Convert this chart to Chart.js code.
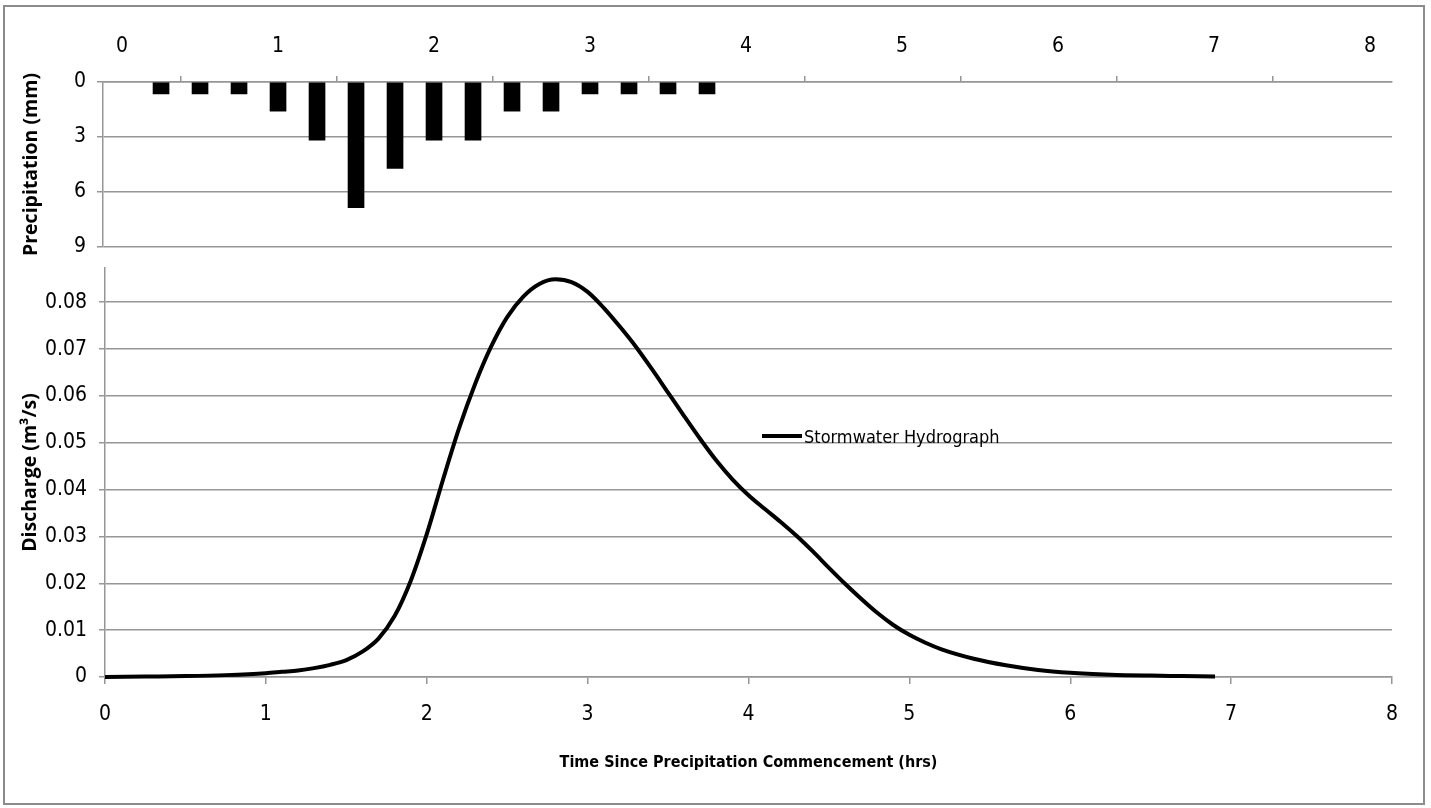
<!DOCTYPE html>
<html>
<head>
<meta charset="utf-8">
<script src="https://cdn.jsdelivr.net/npm/chart.js@4.4.1/dist/chart.umd.min.js"></script>
<style>
  html, body { margin: 0; padding: 0; background: #fff; }
  #wrap { position: relative; width: 1431px; height: 808px; overflow: hidden; }
  #frame { position: absolute; left: 3px; top: 5px; width: 1422px; height: 800px;
           box-sizing: border-box; border: 2px solid #8c8c8c; }
  canvas { position: absolute; left: 0; top: 0; }
</style>
</head>
<body>
<div id="wrap">
  <div id="frame"></div>
  <canvas id="rainChart" width="1431" height="808"></canvas>
  <canvas id="flowChart" width="1431" height="808"></canvas>
</div>
<script>
// precipitation bars (hrs, mm)
const precipTimes = [0.25, 0.5, 0.75, 1.0, 1.25, 1.5, 1.75, 2.0, 2.25, 2.5, 2.75, 3.0, 3.25, 3.5, 3.75];
const precipValues = [0.65, 0.65, 0.65, 1.59, 3.17, 6.86, 4.72, 3.17, 3.17, 1.59, 1.59, 0.65, 0.65, 0.65, 0.65];
const precipTicks = [0, 3, 6, 9];
const topTimeTicks = [0, 1, 2, 3, 4, 5, 6, 7, 8];
const topTimeLabels = ['0', '1', '2', '3', '4', '5', '6', '7', '8'];

// hydrograph (hrs, m3/s)
const flowTimes = [0, 0.25, 0.5, 0.75, 1.0, 1.1, 1.2, 1.3, 1.4, 1.5, 1.6, 1.7, 1.8, 1.9, 2.0,
  2.1, 2.2, 2.3, 2.4, 2.5, 2.6, 2.7, 2.8, 2.9, 3.0, 3.1, 3.2, 3.3, 3.4, 3.5, 3.6, 3.7, 3.8, 3.9, 4.0,
  4.1, 4.2, 4.3, 4.4, 4.5, 4.6, 4.7, 4.8, 4.9, 5.0, 5.1, 5.2, 5.4, 5.6, 5.8, 6.0, 6.25, 6.5, 6.7, 6.9];
const flowValues = [0, 0.0001, 0.0002, 0.0004, 0.0008, 0.0011, 0.0014, 0.0019, 0.0026, 0.0036, 0.0054, 0.0082, 0.013, 0.0205, 0.0305,
  0.042, 0.053, 0.0625, 0.0705, 0.0768, 0.0812, 0.0839, 0.0849, 0.0843, 0.0822, 0.0788, 0.0748, 0.0705, 0.0657, 0.0607, 0.0557, 0.0508, 0.0462, 0.0422, 0.0388,
  0.0359, 0.0331, 0.0301, 0.0268, 0.0233, 0.0199, 0.0167, 0.0137, 0.0111, 0.009, 0.0073, 0.0059, 0.0039, 0.0025, 0.0015, 0.0009, 0.0005, 0.0003, 0.0002, 0.0001];
const flowTicks = [0, 0.01, 0.02, 0.03, 0.04, 0.05, 0.06, 0.07, 0.08];
const flowTickLabels = ['0', '0.01', '0.02', '0.03', '0.04', '0.05', '0.06', '0.07', '0.08'];
const timeTicks = [0, 1, 2, 3, 4, 5, 6, 7, 8];
const timeTickLabels = ['0', '1', '2', '3', '4', '5', '6', '7', '8'];

const narrow = "'Liberation Sans Narrow', 'DejaVu Sans Condensed', 'Liberation Sans', sans-serif";
const boldFace = "'Open Sans', 'Liberation Sans', sans-serif";
const gridGray = '#969696';

Chart.defaults.font.family = narrow;
Chart.defaults.color = '#000';

// top panel: precipitation hanging from the top axis
new Chart(document.getElementById('rainChart'), {
  type: 'bar',
  data: {
    datasets: [{
      label: 'Precipitation',
      data: precipTimes.map((t, i) => ({ x: t, y: precipValues[i] })),
      backgroundColor: '#000',
      borderWidth: 0,
      barThickness: 16,
    }],
  },
  options: {
    responsive: false,
    animation: false,
    layout: { padding: { left: 0, top: 0, right: 39, bottom: 561 } },
    plugins: { legend: { display: false }, tooltip: { enabled: false } },
    scales: {
      x: {
        type: 'linear',
        position: 'top',
        min: -0.122,
        max: 8.141,
        offset: false,
        afterFit: (s) => { s.height = 82; },
        // excel puts the tick marks a little left of the labels
        afterBuildTicks: (s) => { s.ticks = topTimeTicks.map((v) => ({ value: v - 0.122 })); },
        ticks: {
          callback: (v, i) => topTimeLabels[i],
          labelOffset: 19,
          padding: 17,
          maxRotation: 0,
          autoSkip: false,
          font: { size: 21 },
        },
        grid: { drawOnChartArea: false, tickLength: 6, color: gridGray, lineWidth: 1.5 },
        border: { color: gridGray, width: 1.5 },
      },
      y: {
        type: 'linear',
        reverse: true,
        min: 0,
        max: 9,
        afterFit: (s) => { s.width = 103; },
        afterBuildTicks: (s) => { s.ticks = precipTicks.map((v) => ({ value: v })); },
        ticks: { padding: 11, font: { size: 21 }, callback: (v, i) => String(precipTicks[i]) },
        grid: { color: gridGray, lineWidth: 1.5, tickLength: 6 },
        border: { color: gridGray, width: 1.5 },
        title: {
          display: true,
          text: 'Precipitation (mm)',
          font: { family: boldFace, size: 19.5, weight: 'bold' },
          padding: { top: 20, bottom: 0 },
        },
      },
    },
  },
});

const hydroLegend = {
  id: 'hydroLegend',
  afterDraw(chart) {
    const ctx = chart.ctx;
    const ds = chart.data.datasets[0];
    ctx.save();
    ctx.strokeStyle = ds.borderColor;
    ctx.lineWidth = 4;
    ctx.beginPath();
    ctx.moveTo(762, 436);
    ctx.lineTo(802, 436);
    ctx.stroke();
    ctx.fillStyle = '#000';
    ctx.font = '18px ' + narrow;
    ctx.textBaseline = 'alphabetic';
    ctx.fillText(ds.label, 804, 443);
    ctx.restore();
  },
};

// bottom panel: the hydrograph
new Chart(document.getElementById('flowChart'), {
  type: 'line',
  data: {
    datasets: [{
      label: 'Stormwater Hydrograph',
      data: flowTimes.map((t, i) => ({ x: t, y: flowValues[i] })),
      borderColor: '#000',
      borderWidth: 4,
      pointRadius: 0,
      cubicInterpolationMode: 'monotone',
      fill: false,
      clip: 6,
    }],
  },
  options: {
    responsive: false,
    animation: false,
    layout: { padding: { left: 0, top: 268, right: 39, bottom: 0 } },
    plugins: { legend: { display: false }, tooltip: { enabled: false } },
    scales: {
      x: {
        type: 'linear',
        position: 'bottom',
        min: 0,
        max: 8,
        afterFit: (s) => { s.height = 131; },
        afterBuildTicks: (s) => { s.ticks = timeTicks.map((v) => ({ value: v })); },
        ticks: {
          callback: (v, i) => timeTickLabels[i],
          padding: 18,
          maxRotation: 0,
          autoSkip: false,
          font: { size: 21 },
        },
        grid: { drawOnChartArea: false, tickLength: 7, color: gridGray, lineWidth: 1.5 },
        border: { color: gridGray, width: 1.5 },
        title: {
          display: true,
          text: 'Time Since Precipitation Commencement (hrs)',
          font: { family: narrow, size: 16, weight: 'bold' },
          padding: { top: 0, bottom: 36 },
        },
      },
      y: {
        type: 'linear',
        min: 0,
        max: 0.0873,
        afterFit: (s) => { s.width = 105; },
        afterBuildTicks: (s) => { s.ticks = flowTicks.map((v) => ({ value: v })); },
        ticks: { padding: 12, font: { size: 21 }, callback: (v, i) => flowTickLabels[i] },
        grid: { color: gridGray, lineWidth: 1.5, tickLength: 6 },
        border: { color: gridGray, width: 1.5 },
        title: {
          display: true,
          text: 'Discharge (m³/s)',
          font: { family: boldFace, size: 19.5, weight: 'bold' },
          padding: { top: 19, bottom: 0 },
        },
      },
    },
  },
  plugins: [hydroLegend],
});
</script>
</body>
</html>
